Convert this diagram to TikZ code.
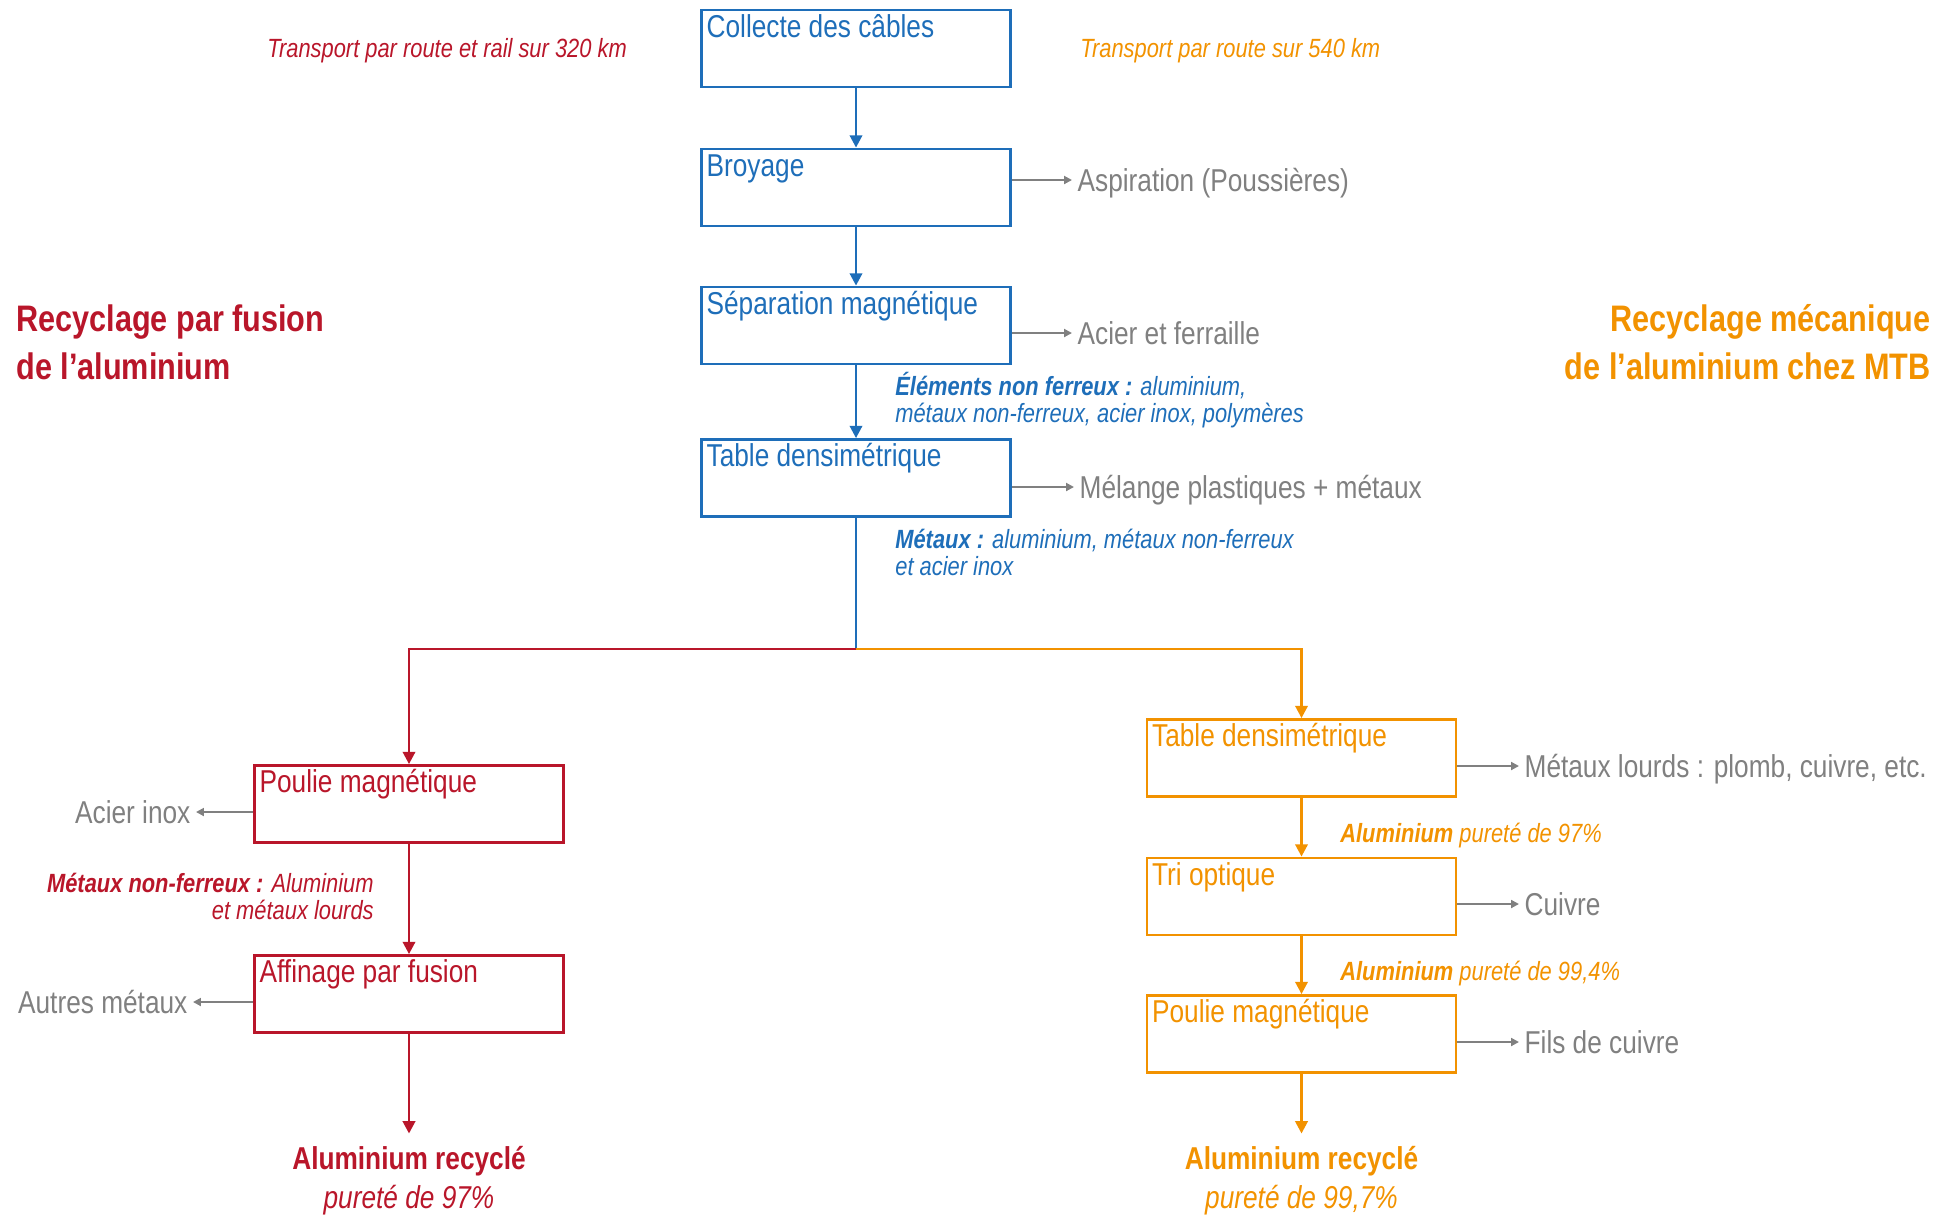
\documentclass[tikz,border=0pt]{standalone}
\usepackage{fontspec}
\setmainfont{Liberation Sans}[FakeStretch=0.83]
\usepackage{tikz}
\usetikzlibrary{arrows.meta}

\definecolor{bleu}{RGB}{30,110,185}
\definecolor{rouge}{RGB}{185,22,42}
\definecolor{orangeMTB}{RGB}{242,146,0}
\definecolor{gris}{RGB}{128,128,128}

\tikzset{
  etape/.style={draw, line width=1.6pt, minimum width=6.18cm, minimum height=1.54cm, inner sep=0pt},
  etxt/.style={anchor=north west, inner xsep=3.5pt, inner ysep=3pt, text height=13pt, text=#1, font=\fontsize{18}{20}\selectfont},
  fleche/.style={line width=1.5pt, -{Triangle[length=7pt,width=7pt]}},
  sortie/.style={draw=gris, line width=1.3pt, -{Triangle[length=4.5pt,width=4.5pt]}},
  dechet/.style={text=gris, font=\fontsize{18}{20}\selectfont, text height=13pt, text depth=0pt, inner xsep=3pt},
  note/.style={font=\fontsize{15}{15.3}\selectfont\itshape, inner sep=0pt},
  titre/.style={font=\fontsize{21}{26.8}\selectfont\bfseries, inner sep=0pt},
  result/.style={anchor=base, font=\fontsize{18}{20}\selectfont, text height=16pt, inner ysep=4pt}
}

\begin{document}
\begin{tikzpicture}[x=0.02cm, y=-0.02cm]
    \useasboundingbox (0,0) rectangle (1957,1215);

    % Titres
    \node[titre, text=rouge, anchor=base west, align=left] (titreF) at (16,379) {Recyclage par fusion\\de l’aluminium};
    \node[titre, text=orangeMTB, anchor=base east, align=right] (titreM) at (1931,379) {Recyclage mécanique\\de l’aluminium chez MTB};
    \node[note, text=rouge, anchor=base west] (trF) at (267,57) {Transport par route et rail sur 320 km};
    \node[note, text=orangeMTB, anchor=base west] (trM) at (1080,57) {Transport par route sur 540 km};

    % Etapes communes
    \node[etape, draw=bleu, label={[etxt=bleu]north west:Collecte des câbles}] (collecte) at (856,48.5) {};
    \node[etape, draw=bleu, label={[etxt=bleu]north west:Broyage}] (broyage) at (856,187.5) {};
    \node[etape, draw=bleu, label={[etxt=bleu]north west:Séparation magnétique}] (separation) at (856,325.5) {};
    \node[etape, draw=bleu, label={[etxt=bleu]north west:Table densimétrique}] (table) at (856,478) {};
    \draw[fleche, bleu] (collecte) -- (broyage);
    \draw[fleche, bleu] (broyage) -- (separation);
    \draw[fleche, bleu] (separation) -- (table);

    \node[dechet, anchor=west] (aspiration) at (1072,180) {Aspiration (Poussières)};
    \node[dechet, anchor=west] (acier) at (1072,333) {Acier et ferraille};
    \node[dechet, anchor=west] (melange) at (1074,487) {Mélange plastiques + métaux};
    \draw[sortie] (broyage.east |- aspiration.west) -- (aspiration.west);
    \draw[sortie] (separation.east |- acier.west) -- (acier.west);
    \draw[sortie] (table.east |- melange.west) -- (melange.west);

    \node[note, text=bleu, anchor=base west, align=left] (nonferreux) at (895,422) {\textbf{Éléments non ferreux :} aluminium,\\métaux non-ferreux, acier inox, polymères};
    \node[note, text=bleu, anchor=base west, align=left] (metaux) at (895,575) {\textbf{Métaux :} aluminium, métaux non-ferreux\\et acier inox};

    % Recyclage par fusion
    \node[etape, draw=rouge, label={[etxt=rouge]north west:Poulie magnétique}] (poulieF) at (409,804) {};
    \node[etape, draw=rouge, label={[etxt=rouge]north west:Affinage par fusion}] (affinage) at (409,994) {};
    \draw[fleche, rouge] (poulieF) -- (affinage);
    \node[dechet, anchor=east] (inox) at (196,812) {Acier inox};
    \node[dechet, anchor=east] (autres) at (193,1002) {Autres métaux};
    \draw[sortie] (poulieF.west |- inox.east) -- (inox.east);
    \draw[sortie] (affinage.west |- autres.east) -- (autres.east);
    \node[note, text=rouge, anchor=base east, align=right] (nonferF) at (374,919) {\textbf{Métaux non-ferreux :} Aluminium\\et métaux lourds};
    \node[result, text=rouge] (alF) at (409,1169) {\textbf{Aluminium recyclé}};
    \node[result, text=rouge] (purF) at (409,1208) {\itshape pureté de 97\%};
    \draw[fleche, rouge] (affinage) -- (alF);

    % Recyclage mecanique
    \node[etape, draw=orangeMTB, label={[etxt=orangeMTB]north west:Table densimétrique}] (tableM) at (1301.5,758) {};
    \node[etape, draw=orangeMTB, label={[etxt=orangeMTB]north west:Tri optique}] (tri) at (1301.5,896.5) {};
    \node[etape, draw=orangeMTB, label={[etxt=orangeMTB]north west:Poulie magnétique}] (poulieM) at (1301.5,1034) {};
    \draw[fleche, orangeMTB] (tableM) -- (tri);
    \draw[fleche, orangeMTB] (tri) -- (poulieM);
    \node[dechet, anchor=west] (lourds) at (1519,766) {Métaux lourds : plomb, cuivre, etc.};
    \node[dechet, anchor=west] (cuivre) at (1519,904) {Cuivre};
    \node[dechet, anchor=west] (fils) at (1519,1042) {Fils de cuivre};
    \draw[sortie] (tableM.east |- lourds.west) -- (lourds.west);
    \draw[sortie] (tri.east |- cuivre.west) -- (cuivre.west);
    \draw[sortie] (poulieM.east |- fils.west) -- (fils.west);
    \node[note, text=orangeMTB, anchor=base west] (pur97) at (1340,842) {\textbf{Aluminium} pureté de 97\%};
    \node[note, text=orangeMTB, anchor=base west] (pur994) at (1340,980) {\textbf{Aluminium} pureté de 99,4\%};
    \node[result, text=orangeMTB] (alM) at (1301.5,1169) {\textbf{Aluminium recyclé}};
    \node[result, text=orangeMTB] (purM) at (1301.5,1208) {\itshape pureté de 99,7\%};
    \draw[fleche, orangeMTB] (poulieM) -- (alM);

    % Fourche
    \coordinate (fourche) at (856,649);
    \draw[line width=1.5pt, bleu] (table) -- (fourche);
    \draw[fleche, rouge] (fourche) -| (poulieF);
    \draw[fleche, orangeMTB] (fourche) -| (tableM);
\end{tikzpicture}
\end{document}
